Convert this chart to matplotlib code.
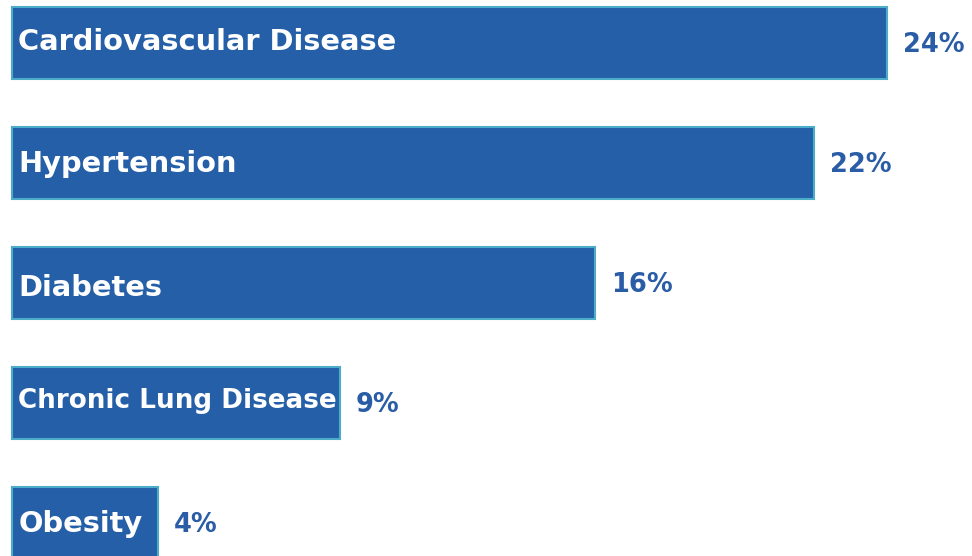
import matplotlib.pyplot as plt

# comorbidity share (%)
conditions = ["Cardiovascular Disease", "Hypertension", "Diabetes",
              "Chronic Lung Disease", "Obesity"]
shares = [24, 22, 16, 9, 4]

# label styling (font size pt, baseline drop below bar centre in px)
label_sizes = [20.8, 20.8, 20.8, 18.9, 20.8]
label_drop = [7.5, 9.0, 13.7, 6.0, 10.0]

bar_color = "#245FA8"
edge_color = "#4BADC8"
pct_color = "#2A5DA6"

fig = plt.figure(figsize=(9.72, 5.56), dpi=100)
ax = fig.add_axes([0, 0, 1, 1])

ypos = list(range(len(conditions)))
ax.barh(ypos, shares, height=0.6, color=bar_color, edgecolor=edge_color,
        linewidth=1.5)

px = 0.72  # points per pixel at dpi 100
for y, name, val, fs, dy in zip(ypos, conditions, shares, label_sizes, label_drop):
    ax.annotate(name, (0, y), xytext=(4.5, -dy * px), textcoords="offset points",
                va="baseline", ha="left", color="white", fontsize=fs,
                fontweight="bold", family="DejaVu Sans")
    ax.annotate(f"{val}%", (val, y), xytext=(11.5, -10 * px),
                textcoords="offset points", va="baseline", ha="left",
                color=pct_color, fontsize=18.5, fontweight="bold",
                family="DejaVu Sans")

ax.set_xlim(-12 / 36.46, 960 / 36.46)
ax.set_ylim((556 - 42.5) / 120, -42.5 / 120)
ax.axis("off")

fig.savefig("out.png", dpi=100)
